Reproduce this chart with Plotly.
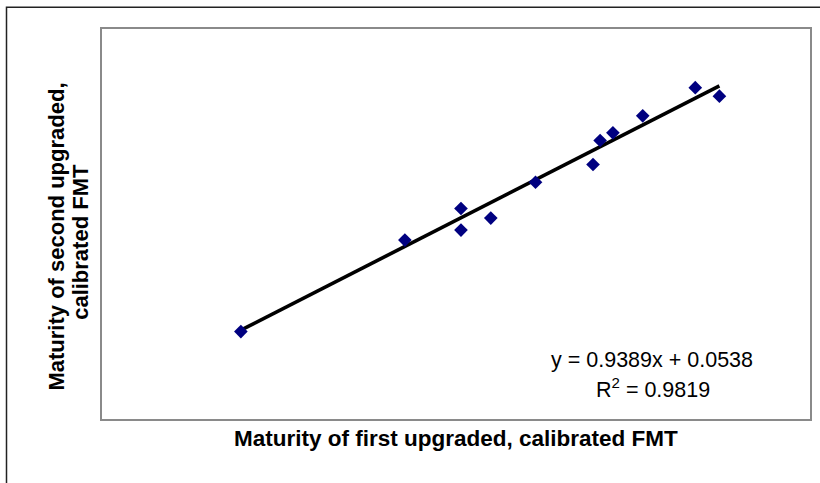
import plotly.graph_objects as go
import numpy as np

# Data (maturity values)
first_fmt = [0.197, 0.428, 0.507, 0.507, 0.549, 0.612, 0.693, 0.703, 0.721, 0.763, 0.837, 0.871]
second_fmt = [0.235, 0.472, 0.554, 0.498, 0.529, 0.622, 0.668, 0.730, 0.750, 0.794, 0.867, 0.845]

slope = 0.9389
intercept = 0.0538
r_squared = 0.9819

x_title = "Maturity of first upgraded, calibrated FMT"
y_title_lines = ["Maturity of second upgraded,", "calibrated FMT"]

FONT = "Liberation Sans, Arial, sans-serif"
TITLE_SIZE = 22.5
Y_TITLE_SIZE = 22
EQ_SIZE = 21.5

trend_x = np.array([min(first_fmt), max(first_fmt)])
trend_y = slope * trend_x + intercept

fig = go.Figure()
fig.add_trace(go.Scatter(
    x=trend_x, y=trend_y, mode="lines",
    line=dict(color="black", width=3.6), showlegend=False, hoverinfo="skip"))
fig.add_trace(go.Scatter(
    x=first_fmt, y=second_fmt, mode="markers",
    marker=dict(symbol="diamond", size=10.5, color="#000080"),
    showlegend=False))

fig.update_xaxes(range=[0, 1], showgrid=False, zeroline=False, showticklabels=False,
                 ticks="", showline=False)
fig.update_yaxes(range=[0.006, 1.0215], showgrid=False, zeroline=False, showticklabels=False,
                 ticks="", showline=False)

ann = []
# x axis title
ann.append(dict(text=x_title, xref="paper", yref="paper", x=0.5, y=-0.048,
                xanchor="center", yanchor="middle", showarrow=False,
                font=dict(family=FONT, size=TITLE_SIZE, color="black", weight="bold")))
# y axis title lines
ann.append(dict(text=y_title_lines[0], xref="paper", yref="paper", x=-0.0620, y=0.468,
                xanchor="center", yanchor="middle", showarrow=False, textangle=-90,
                font=dict(family=FONT, size=Y_TITLE_SIZE, color="black", weight="bold")))
ann.append(dict(text=y_title_lines[1], xref="paper", yref="paper", x=-0.0293, y=0.455,
                xanchor="center", yanchor="middle", showarrow=False, textangle=-90,
                font=dict(family=FONT, size=Y_TITLE_SIZE, color="black", weight="bold")))
# equation
ann.append(dict(text=f"y = {slope}x + {intercept}", xref="paper", yref="paper",
                x=(651.7 - 100.7) / 710, y=(420 - 360) / 392,
                xanchor="center", yanchor="middle", showarrow=False,
                font=dict(family=FONT, size=EQ_SIZE, color="black")))
ann.append(dict(text=f"R<sup>2</sup> = {r_squared}", xref="paper", yref="paper",
                x=(652.5 - 100.7) / 710, y=(420 - 388) / 392,
                xanchor="center", yanchor="middle", showarrow=False,
                font=dict(family=FONT, size=EQ_SIZE, color="black")))

shapes = [
    dict(type="rect", xref="paper", yref="paper", x0=0, x1=1, y0=0, y1=1,
         line=dict(color="#8a8a8a", width=2), layer="above"),
    dict(type="rect", xref="paper", yref="paper",
         x0=(6.2 - 100.7) / 710, x1=1.1, y0=-0.3, y1=(420 - 7.2) / 392,
         line=dict(color="#222222", width=1.5), layer="above"),
]

fig.update_layout(
    width=820, height=483,
    margin=dict(l=101, r=9, t=28, b=63),
    paper_bgcolor="white", plot_bgcolor="white",
    annotations=ann, shapes=shapes,
    font=dict(family=FONT),
)

fig.write_html("out.html")
